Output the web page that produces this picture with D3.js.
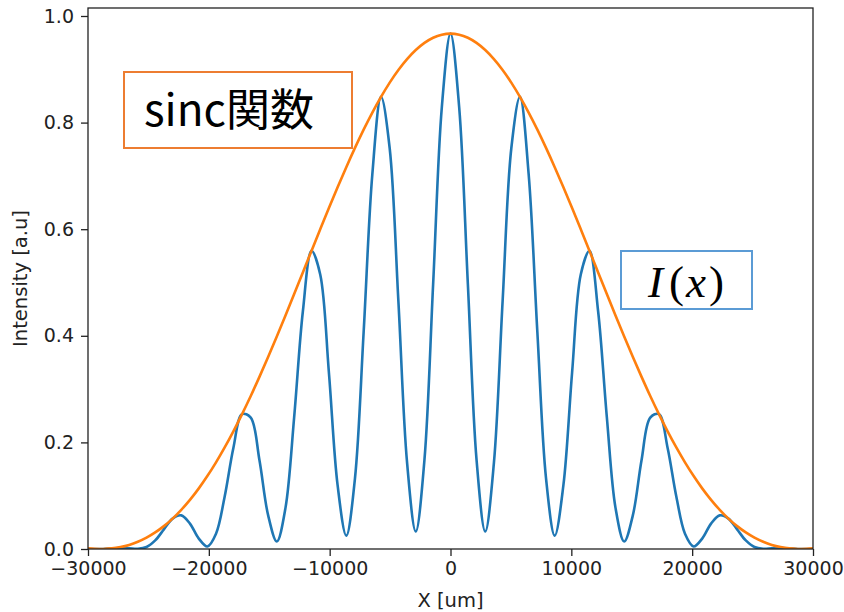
<!DOCTYPE html>
<html>
<head>
<meta charset="utf-8">
<script src="https://cdn.jsdelivr.net/npm/d3@7"></script>
<style>
  body { margin: 0; background: #fff; }
  svg { display: block; }
</style>
</head>
<body>
<svg id="chart" width="844" height="612"></svg>
<script>
// sample positions along X [um]
var xValues = [-30000, -29469, -28750, -28031, -27313, -26594, -25875, -25156, -24438, -23719,
  -23000, -22281, -21563, -20844, -20125, -19406, -18688, -17969, -17250, -16531,
  -15813, -15094, -14375, -13656, -12938, -12219, -11500, -10781, -10063, -9344,
  -8625, -7906, -7188, -6469, -5750, -5031, -4313, -3594, -2875, -2156,
  -1438, -719, 0, 719, 1438, 2156, 2875, 3594, 4313, 5031,
  5750, 6469, 7188, 7906, 8625, 9344, 10063, 10781, 11500, 12219,
  12938, 13656, 14375, 15094, 15813, 16531, 17250, 17969, 18688, 19406,
  20125, 20844, 21563, 22281, 23000, 23719, 24438, 25156, 25875, 26594,
  27313, 28031, 28750, 29469, 30000];

// blue curve: I(x)
var intensity = [0.0000, 0.0000, 0.0001, 0.0010, 0.0019, 0.0014, 0.0005, 0.0038, 0.0161, 0.0368,
  0.0570, 0.0631, 0.0477, 0.0200, 0.0048, 0.0287, 0.0986, 0.1896, 0.2531, 0.2465,
  0.1671, 0.0635, 0.0140, 0.0772, 0.2475, 0.4456, 0.5595, 0.5151, 0.3311, 0.1197,
  0.0251, 0.1327, 0.4071, 0.7030, 0.8482, 0.7514, 0.4651, 0.1620, 0.0328, 0.1674,
  0.4964, 0.8286, 0.9670, 0.8286, 0.4964, 0.1674, 0.0328, 0.1620, 0.4651, 0.7514,
  0.8482, 0.7030, 0.4071, 0.1327, 0.0251, 0.1197, 0.3311, 0.5151, 0.5595, 0.4456,
  0.2475, 0.0772, 0.0140, 0.0635, 0.1671, 0.2465, 0.2531, 0.1896, 0.0986, 0.0287,
  0.0048, 0.0200, 0.0477, 0.0631, 0.0570, 0.0368, 0.0161, 0.0038, 0.0005, 0.0014,
  0.0019, 0.0010, 0.0001, 0.0000, 0.0000];

// orange curve: sinc envelope
var envelope = [0.0011, 0.0002, 0.0001, 0.0012, 0.0037, 0.0077, 0.0136, 0.0213, 0.0311, 0.0429,
  0.0570, 0.0735, 0.0922, 0.1133, 0.1368, 0.1626, 0.1906, 0.2208, 0.2531, 0.2871,
  0.3229, 0.3602, 0.3987, 0.4381, 0.4783, 0.5189, 0.5595, 0.5999, 0.6398, 0.6787,
  0.7164, 0.7525, 0.7867, 0.8187, 0.8482, 0.8750, 0.8987, 0.9191, 0.9361, 0.9495,
  0.9592, 0.9650, 0.9670, 0.9650, 0.9592, 0.9495, 0.9361, 0.9191, 0.8987, 0.8750,
  0.8482, 0.8187, 0.7867, 0.7525, 0.7164, 0.6787, 0.6398, 0.5999, 0.5595, 0.5189,
  0.4783, 0.4381, 0.3987, 0.3602, 0.3229, 0.2871, 0.2531, 0.2208, 0.1906, 0.1626,
  0.1368, 0.1133, 0.0922, 0.0735, 0.0570, 0.0429, 0.0311, 0.0213, 0.0136, 0.0077,
  0.0037, 0.0012, 0.0001, 0.0002, 0.0011];

var xTicks = [-30000, -20000, -10000, 0, 10000, 20000, 30000];
var yTicks = [0.0, 0.2, 0.4, 0.6, 0.8, 1.0];
var xLabel = 'X [um]';
var yLabel = 'Intensity [a.u]';
var sincLabel = 'sinc関数';

//Dimension-related vars
var plotLeft = 88, plotRight = 813, plotTop = 8, plotBottom = 549;
var tickFont = 'DejaVu Sans, sans-serif';

var svg = d3.select('#chart');

var xScale = d3.scaleLinear()
  .domain([-30000, 30000])
  .range([plotLeft, plotRight]);
var yScale = d3.scaleLinear()
  .domain([0, 1.015])
  .range([plotBottom, plotTop]);

var blueData = xValues.map(function(x, i) { return [x, intensity[i]]; });
var orangeData = xValues.map(function(x, i) { return [x, envelope[i]]; });

var line = d3.line()
  .x(function(d) { return xScale(d[0]); })
  .y(function(d) { return yScale(d[1]); })
  .curve(d3.curveCatmullRom.alpha(0.5));

svg.append('defs').append('clipPath')
  .attr('id', 'plotClip')
  .append('rect')
  .attr('x', plotLeft)
  .attr('y', plotTop)
  .attr('width', plotRight - plotLeft)
  .attr('height', plotBottom - plotTop);

var plot = svg.append('g').attr('clip-path', 'url(#plotClip)');

plot.append('path')
  .attr('d', line(blueData))
  .style('fill', 'none')
  .style('stroke', '#1f77b4')
  .style('stroke-width', 2.6)
  .style('stroke-linejoin', 'round');

plot.append('path')
  .attr('d', line(orangeData))
  .style('fill', 'none')
  .style('stroke', '#ff7f0e')
  .style('stroke-width', 2.6)
  .style('stroke-linejoin', 'round');

//Axes
var xAxis = d3.axisBottom(xScale)
  .tickValues(xTicks)
  .tickSize(7)
  .tickPadding(6)
  .tickFormat(d3.format('d'));
var yAxis = d3.axisLeft(yScale)
  .tickValues(yTicks)
  .tickSize(7)
  .tickPadding(7)
  .tickFormat(d3.format('.1f'));

var gx = svg.append('g')
  .attr('transform', 'translate(0,' + plotBottom + ')')
  .call(xAxis);
var gy = svg.append('g')
  .attr('transform', 'translate(' + plotLeft + ',0)')
  .call(yAxis);

[gx, gy].forEach(function(g) {
  g.select('.domain').remove();
  g.selectAll('line').style('stroke', '#222').style('stroke-width', 1.3);
  g.selectAll('text')
    .style('font-family', tickFont)
    .style('font-size', '19px')
    .style('fill', '#222');
});

//Frame
svg.append('rect')
  .attr('x', plotLeft)
  .attr('y', plotTop)
  .attr('width', plotRight - plotLeft)
  .attr('height', plotBottom - plotTop)
  .style('fill', 'none')
  .style('stroke', '#222')
  .style('stroke-width', 1.3);

//Axis labels
svg.append('text')
  .attr('x', (plotLeft + plotRight) / 2)
  .attr('y', 607)
  .attr('text-anchor', 'middle')
  .style('font-family', tickFont)
  .style('font-size', '19.5px')
  .style('fill', '#222')
  .text(xLabel);

svg.append('text')
  .attr('transform', 'translate(27,' + ((plotTop + plotBottom) / 2) + ') rotate(-90)')
  .attr('text-anchor', 'middle')
  .style('font-family', tickFont)
  .style('font-size', '19.5px')
  .style('fill', '#222')
  .text(yLabel);

//Annotation boxes
svg.append('rect')
  .attr('x', 124)
  .attr('y', 72)
  .attr('width', 228)
  .attr('height', 76)
  .style('fill', '#fff')
  .style('stroke', '#ed7d31')
  .style('stroke-width', 2);
svg.append('text')
  .attr('x', 144)
  .attr('y', 126)
  .style('font-family', '"Noto Sans CJK JP", sans-serif')
  .style('font-size', '44px')
  .style('fill', '#000')
  .text(sincLabel);

svg.append('rect')
  .attr('x', 621)
  .attr('y', 251)
  .attr('width', 131)
  .attr('height', 58)
  .style('fill', '#fff')
  .style('stroke', '#5b9bd5')
  .style('stroke-width', 2);
var ix = svg.append('text')
  .attr('x', 686)
  .attr('y', 297)
  .attr('text-anchor', 'middle')
  .style('font-family', '"Liberation Serif", serif')
  .style('font-size', '45px')
  .style('fill', '#000');
ix.append('tspan').style('font-style', 'italic').text('I');
ix.append('tspan').attr('dx', 6).text('(');
ix.append('tspan').attr('dx', 2).style('font-style', 'italic').text('x');
ix.append('tspan').attr('dx', 3).text(')');
</script>
</body>
</html>
